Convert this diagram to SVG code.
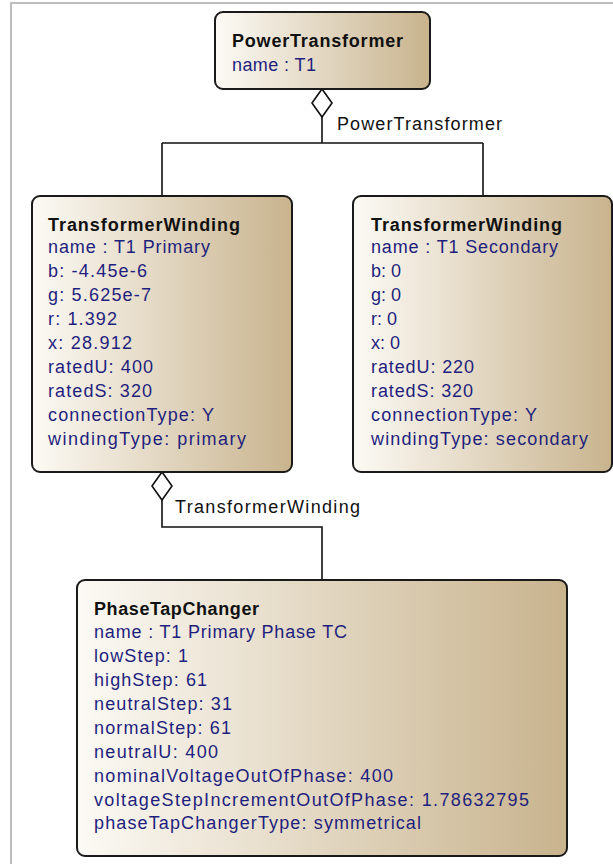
<svg xmlns="http://www.w3.org/2000/svg" width="613" height="864" viewBox="0 0 613 864">
<defs>
<linearGradient id="fill" x1="0" y1="0" x2="1" y2="0">
<stop offset="0" stop-color="#fcfaf5"/>
<stop offset="1" stop-color="#c8b38d"/>
</linearGradient>
</defs>
<style>
.box{fill:url(#fill);stroke:#1a1a1a;stroke-width:2}
.t{font-family:"Liberation Sans",Arial,sans-serif;font-size:18px;font-weight:bold;fill:#111}
.a{font-family:"Liberation Sans",Arial,sans-serif;font-size:18px;fill:#1f1f7e}
.l{font-family:"Liberation Sans",Arial,sans-serif;font-size:18px;fill:#111}
.c{fill:none;stroke:#111;stroke-width:1.6}
.d{fill:#fff;stroke:#111;stroke-width:1.6}
</style>
<rect width="613" height="864" fill="#fff"/>
<path d="M11 864 V3 H613" fill="none" stroke="#bdbdbd" stroke-width="2"/>

<g id="connectors">
<path class="c" d="M322 117 V143 M162 143 H483 M162 143 V196 M483 143 V196"/>
<polygon class="d" points="322,89 332,103 322,117 312,103"/>
<text class="l" x="337" y="130" textLength="165" lengthAdjust="spacing">PowerTransformer</text>
<path class="c" d="M162 500 V527 H322 V580"/>
<polygon class="d" points="162,472 172,486 162,500 152,486"/>
<text class="l" x="175" y="513" textLength="185" lengthAdjust="spacing">TransformerWinding</text>
</g>

<g id="powerTransformer">
<rect class="box" x="215" y="12" width="215" height="77" rx="8"/>
<text class="t" x="232" y="47" textLength="171" lengthAdjust="spacing">PowerTransformer</text>
<text class="a" x="232" y="71" textLength="84" lengthAdjust="spacing">name : T1</text>
</g>

<g id="windingPrimary">
<rect class="box" x="32" y="196" width="260" height="276" rx="8"/>
<text class="t" x="48" y="231" textLength="192" lengthAdjust="spacing">TransformerWinding</text>
<text class="a" x="48" y="253" textLength="162" lengthAdjust="spacing">name : T1 Primary</text>
<text class="a" x="48" y="277" textLength="99" lengthAdjust="spacing">b: -4.45e-6</text>
<text class="a" x="48" y="301" textLength="103" lengthAdjust="spacing">g: 5.625e-7</text>
<text class="a" x="48" y="325" textLength="69" lengthAdjust="spacing">r: 1.392</text>
<text class="a" x="48" y="349" textLength="84" lengthAdjust="spacing">x: 28.912</text>
<text class="a" x="48" y="373" textLength="105" lengthAdjust="spacing">ratedU: 400</text>
<text class="a" x="48" y="397" textLength="104" lengthAdjust="spacing">ratedS: 320</text>
<text class="a" x="48" y="421" textLength="166" lengthAdjust="spacing">connectionType: Y</text>
<text class="a" x="48" y="445" textLength="198" lengthAdjust="spacing">windingType: primary</text>
</g>

<g id="windingSecondary">
<rect class="box" x="353" y="196" width="259" height="276" rx="8"/>
<text class="t" x="371" y="231" textLength="191" lengthAdjust="spacing">TransformerWinding</text>
<text class="a" x="371" y="253" textLength="187" lengthAdjust="spacing">name : T1 Secondary</text>
<text class="a" x="371" y="277">b: 0</text>
<text class="a" x="371" y="301">g: 0</text>
<text class="a" x="371" y="325">r: 0</text>
<text class="a" x="371" y="349">x: 0</text>
<text class="a" x="371" y="373" textLength="103" lengthAdjust="spacing">ratedU: 220</text>
<text class="a" x="371" y="397" textLength="102" lengthAdjust="spacing">ratedS: 320</text>
<text class="a" x="371" y="421" textLength="166" lengthAdjust="spacing">connectionType: Y</text>
<text class="a" x="371" y="445" textLength="217" lengthAdjust="spacing">windingType: secondary</text>
</g>

<g id="phaseTapChanger">
<rect class="box" x="77" y="580" width="490" height="276" rx="8"/>
<text class="t" x="94" y="615" textLength="165" lengthAdjust="spacing">PhaseTapChanger</text>
<text class="a" x="94" y="638" textLength="253" lengthAdjust="spacing">name : T1 Primary Phase TC</text>
<text class="a" x="94" y="662" textLength="94" lengthAdjust="spacing">lowStep: 1</text>
<text class="a" x="94" y="686" textLength="113" lengthAdjust="spacing">highStep: 61</text>
<text class="a" x="94" y="710" textLength="138" lengthAdjust="spacing">neutralStep: 31</text>
<text class="a" x="94" y="734" textLength="137" lengthAdjust="spacing">normalStep: 61</text>
<text class="a" x="94" y="758" textLength="124" lengthAdjust="spacing">neutralU: 400</text>
<text class="a" x="94" y="782" textLength="299" lengthAdjust="spacing">nominalVoltageOutOfPhase: 400</text>
<text class="a" x="94" y="806" textLength="435" lengthAdjust="spacing">voltageStepIncrementOutOfPhase: 1.78632795</text>
<text class="a" x="94" y="829" textLength="327" lengthAdjust="spacing">phaseTapChangerType: symmetrical</text>
</g>
</svg>
